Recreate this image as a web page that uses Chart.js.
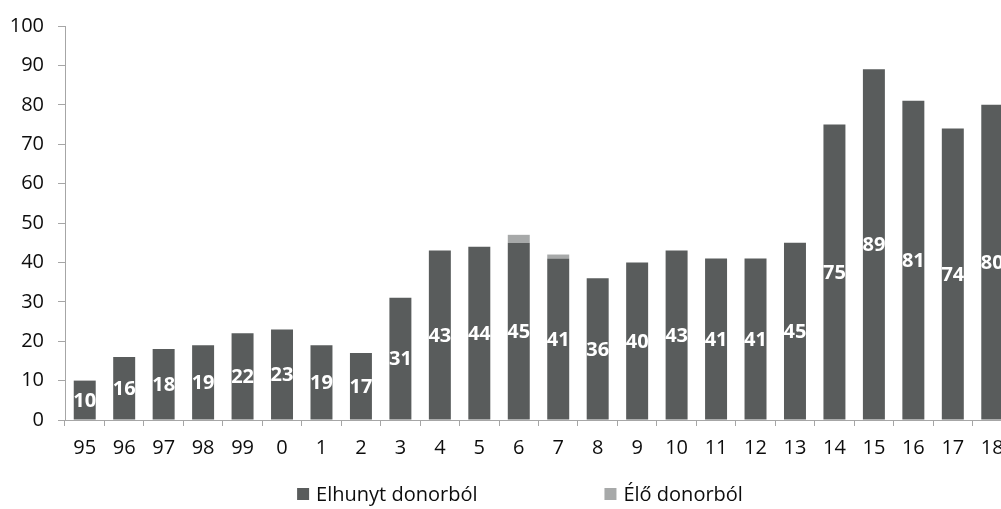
<!DOCTYPE html>
<html>
<head>
<meta charset="utf-8">
<script src="https://cdn.jsdelivr.net/npm/chart.js@4/dist/chart.umd.min.js"></script>
<style>
  html, body { margin: 0; padding: 0; overflow: hidden; background: #fff; }
  canvas { display: block; }
</style>
</head>
<body>
<canvas id="chart" width="1040" height="509"></canvas>
<script>
const years = ['95', '96', '97', '98', '99', '0', '1', '2', '3', '4', '5', '6', '7', '8', '9', '10', '11', '12', '13', '14', '15', '16', '17', '18']
const deceased = [10, 16, 18, 19, 22, 23, 19, 17, 31, 43, 44, 45, 41, 36, 40, 43, 41, 41, 45, 75, 89, 81, 74, 80]
const living = [0, 0, 0, 0, 0, 0, 0, 0, 0, 0, 0, 2, 1, 0, 0, 0, 0, 0, 0, 0, 0, 0, 0, 0]
const yTicks = [0, 10, 20, 30, 40, 50, 60, 70, 80, 90, 100]

const FONT = "'Open Sans', sans-serif"
const axisColor = '#a6a6a6'
const textColor = '#0d0d0d'

// white value labels in the middle of the dark bars
const valueLabels = {
  id: 'valueLabels',
  afterDatasetsDraw(chart) {
    const ctx = chart.ctx
    const meta = chart.getDatasetMeta(0)
    ctx.save()
    ctx.font = `bold 20px ${FONT}`
    ctx.fillStyle = '#ffffff'
    ctx.textAlign = 'center'
    ctx.textBaseline = 'middle'
    meta.data.forEach((bar, i) => {
      ctx.fillText(deceased[i], bar.x, (bar.y + bar.base) / 2 + 1)
    })
    ctx.restore()
  }
}

// legend with a wide gap between the two items
const wideLegend = {
  id: 'wideLegend',
  afterDraw(chart) {
    const ctx = chart.ctx
    const box = 12, boxGap = 7, itemGap = 127
    const cy = chart.height - 15
    ctx.save()
    ctx.font = `20px ${FONT}`
    ctx.textBaseline = 'middle'
    const items = chart.data.datasets.map(ds => ({
      text: ds.label,
      color: ds.backgroundColor,
      w: box + boxGap + ctx.measureText(ds.label).width
    }))
    const total = items.reduce((s, it) => s + it.w, 0) + itemGap * (items.length - 1)
    let x = chart.width / 2 - total / 2
    items.forEach(it => {
      ctx.fillStyle = it.color
      ctx.fillRect(x, cy - box / 2, box, box)
      ctx.fillStyle = textColor
      ctx.fillText(it.text, x + box + boxGap, cy + 1)
      x += it.w + itemGap
    })
    ctx.restore()
  }
}

const ctx = document.getElementById('chart').getContext('2d')
new Chart(ctx, {
  type: 'bar',
  data: {
    labels: years,
    datasets: [
      { label: 'Elhunyt donorból', data: deceased, backgroundColor: '#595c5c' },
      { label: 'Élő donorból', data: living, backgroundColor: '#a7a9a9' }
    ]
  },
  options: {
    responsive: false,
    animation: false,
    devicePixelRatio: 1,
    barPercentage: 0.557,
    categoryPercentage: 1,
    layout: { padding: { top: 23, right: 28, bottom: 53, left: 0 } },
    plugins: {
      legend: { display: false },
      tooltip: { enabled: false }
    },
    scales: {
      x: {
        stacked: true,
        grid: { offset: true, drawOnChartArea: false, tickLength: 6, color: axisColor },
        border: { color: axisColor },
        ticks: { font: { family: FONT, size: 20 }, color: textColor, padding: 10, autoSkip: false, maxRotation: 0 },
        afterFit(scale) { scale.height = 36 }
      },
      y: {
        stacked: true,
        min: 0,
        max: 100,
        afterBuildTicks(scale) { scale.ticks = yTicks.map(v => ({ value: v })) },
        grid: { drawOnChartArea: false, tickLength: 7, color: axisColor },
        border: { color: axisColor },
        ticks: { font: { family: FONT, size: 20 }, color: textColor, padding: 14 },
        afterFit(scale) { scale.width = 65 }
      }
    }
  },
  plugins: [valueLabels, wideLegend]
})
</script>
</body>
</html>
